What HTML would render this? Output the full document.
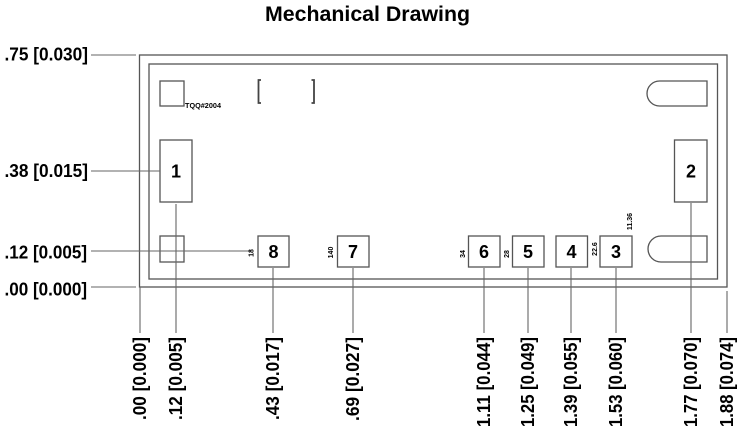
<!DOCTYPE html>
<html>
<head>
<meta charset="utf-8">
<style>
  html,body{margin:0;padding:0;background:#fff;}
  svg{display:block;}
  text{font-family:"Liberation Sans",Arial,sans-serif;}
</style>
</head>
<body>
<svg width="739" height="433" viewBox="0 0 739 433" xmlns="http://www.w3.org/2000/svg">
  <rect x="0" y="0" width="739" height="433" fill="#fff"/>
  <!-- Title -->
  <text x="265" y="21" font-size="21" font-weight="bold" fill="#000" textLength="205" lengthAdjust="spacingAndGlyphs">Mechanical Drawing</text>

  <g fill="none" stroke="#555" stroke-width="1.3">
    <!-- outer / inner outlines -->
    <rect x="139.5" y="55" width="587.5" height="232"/>
    <rect x="149" y="64" width="568.5" height="215"/>

    <!-- top-left small square -->
    <rect x="160" y="81" width="24" height="25"/>
    <!-- bottom-left small square -->
    <rect x="160" y="236" width="24" height="26"/>

    <!-- box 1 & 2 -->
    <rect x="160" y="140" width="32" height="62"/>
    <rect x="674.5" y="140" width="32.5" height="62"/>

    <!-- small boxes -->
    <rect x="258" y="236" width="31" height="31"/>
    <rect x="337.5" y="236" width="31.5" height="31"/>
    <rect x="468.5" y="236" width="31.5" height="31"/>
    <rect x="512.5" y="236" width="31.5" height="31"/>
    <rect x="556" y="236" width="31.5" height="31"/>
    <rect x="600" y="236" width="32" height="31"/>

    <!-- stadium shapes -->
    <path d="M707 81 H659.5 A12.5 12.5 0 0 0 659.5 106 H707 Z"/>
    <path d="M707 236 H661 A13 13 0 0 0 661 262 H707 Z"/>
  </g>

  <!-- brackets -->
  <g fill="none" stroke="#444" stroke-width="1.8">
    <path d="M261 80 H258.5 V103 H261"/>
    <path d="M311.5 80 H314 V103 H311.5"/>
  </g>

  <!-- dimension lines -->
  <g stroke="#666" stroke-width="1.1" fill="none">
    <line x1="91" y1="55" x2="136" y2="55"/>
    <line x1="91" y1="171" x2="160" y2="171"/>
    <line x1="91" y1="251" x2="251" y2="251"/>
    <line x1="91" y1="287" x2="136" y2="287"/>

    <line x1="140" y1="287" x2="140" y2="333"/>
    <line x1="176" y1="204" x2="176" y2="333"/>
    <line x1="273" y1="268" x2="273" y2="333"/>
    <line x1="353" y1="268" x2="353" y2="333"/>
    <line x1="484" y1="268" x2="484" y2="333"/>
    <line x1="528" y1="268" x2="528" y2="333"/>
    <line x1="571" y1="268" x2="571" y2="333"/>
    <line x1="616" y1="268" x2="616" y2="333"/>
    <line x1="691" y1="203" x2="691" y2="333"/>
    <line x1="727" y1="291" x2="727" y2="333"/>
  </g>

  <!-- horizontal dimension labels -->
  <g font-size="18" font-weight="bold" fill="#000">
    <text x="4.5" y="60.5" textLength="83.5" lengthAdjust="spacingAndGlyphs">.75 [0.030]</text>
    <text x="4.5" y="177" textLength="83.5" lengthAdjust="spacingAndGlyphs">.38 [0.015]</text>
    <text x="4.5" y="258.5" textLength="82.5" lengthAdjust="spacingAndGlyphs">.12 [0.005]</text>
    <text x="4.5" y="295.5" textLength="82.5" lengthAdjust="spacingAndGlyphs">.00 [0.000]</text>
  </g>

  <!-- vertical dimension labels -->
  <g font-size="18" font-weight="bold" fill="#000" text-anchor="end">
    <text transform="translate(146,337) rotate(-90)" textLength="83" lengthAdjust="spacingAndGlyphs">.00 [0.000]</text>
    <text transform="translate(182,337) rotate(-90)" textLength="83" lengthAdjust="spacingAndGlyphs">.12 [0.005]</text>
    <text transform="translate(279,337) rotate(-90)" textLength="83" lengthAdjust="spacingAndGlyphs">.43 [0.017]</text>
    <text transform="translate(359,337) rotate(-90)" textLength="84" lengthAdjust="spacingAndGlyphs">.69 [0.027]</text>
    <text transform="translate(490,337) rotate(-90)" textLength="90" lengthAdjust="spacingAndGlyphs">1.11 [0.044]</text>
    <text transform="translate(534,337) rotate(-90)" textLength="90" lengthAdjust="spacingAndGlyphs">1.25 [0.049]</text>
    <text transform="translate(577,337) rotate(-90)" textLength="90" lengthAdjust="spacingAndGlyphs">1.39 [0.055]</text>
    <text transform="translate(622,337) rotate(-90)" textLength="90" lengthAdjust="spacingAndGlyphs">1.53 [0.060]</text>
    <text transform="translate(697,337) rotate(-90)" textLength="90" lengthAdjust="spacingAndGlyphs">1.77 [0.070]</text>
    <text transform="translate(733,337) rotate(-90)" textLength="90" lengthAdjust="spacingAndGlyphs">1.88 [0.074]</text>
  </g>

  <!-- box labels -->
  <g font-size="18" font-weight="bold" fill="#000" text-anchor="middle">
    <text x="176" y="177.5">1</text>
    <text x="691" y="177.5">2</text>
    <text x="616" y="258">3</text>
    <text x="571.5" y="258">4</text>
    <text x="528" y="258">5</text>
    <text x="484" y="258">6</text>
    <text x="353" y="258">7</text>
    <text x="273.5" y="258">8</text>
  </g>

  <!-- tiny labels -->
  <text x="185" y="108" font-size="7" font-weight="bold" fill="#000" textLength="36" lengthAdjust="spacingAndGlyphs">TQQ#2004</text>
  <g font-size="7" font-weight="bold" fill="#000" text-anchor="middle">
    <text transform="translate(253.5,253) rotate(-90)">18</text>
    <text transform="translate(333,252.5) rotate(-90)">140</text>
    <text transform="translate(465,254) rotate(-90)">34</text>
    <text transform="translate(509,254) rotate(-90)">28</text>
    <text transform="translate(597,249) rotate(-90)">22.6</text>
    <text transform="translate(632,221.5) rotate(-90)">11.36</text>
  </g>
</svg>
</body>
</html>
